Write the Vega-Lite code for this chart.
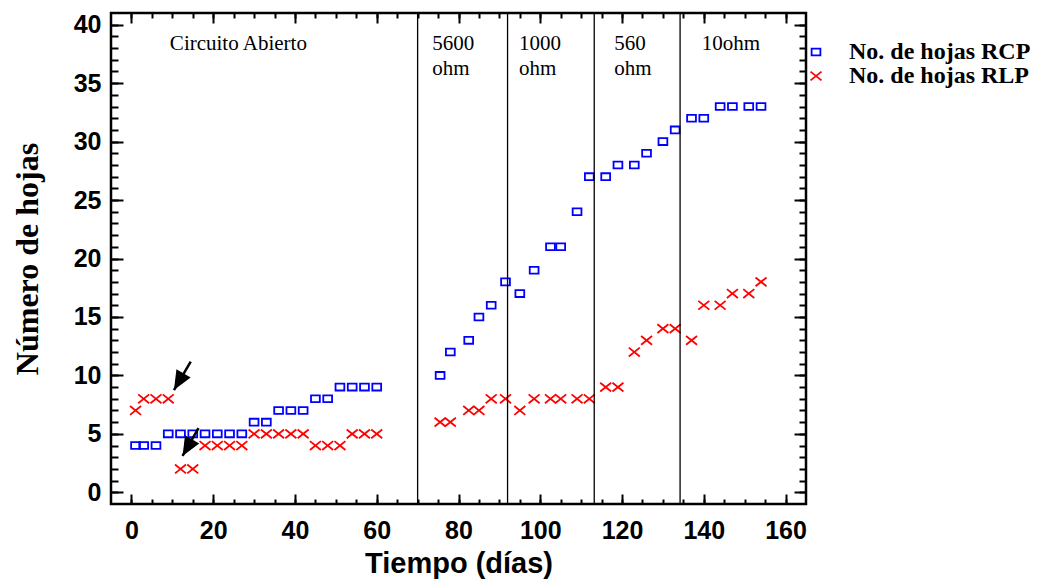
{
  "$schema": "https://vega.github.io/schema/vega-lite/v6.json",
  "autosize": {"type": "none"},
  "padding": {"left": 111, "top": 13, "right": 248, "bottom": 76},
  "width": 695,
  "height": 491,
  "background": "white",
  "config": {
    "view": {"stroke": "black", "strokeWidth": 2.5},
    "axis": {
      "domain": false,
      "grid": false,
      "tickColor": "black",
      "tickWidth": 2,
      "labelColor": "black",
      "titleColor": "black",
      "labelFont": "Liberation Sans",
      "labelFontWeight": "bold",
      "labelFontSize": 25
    }
  },
  "datasets": {
    "puntos": [
      {"dia": 1, "hojas": 4, "serie": "No. de hojas RCP"},
      {"dia": 3, "hojas": 4, "serie": "No. de hojas RCP"},
      {"dia": 6, "hojas": 4, "serie": "No. de hojas RCP"},
      {"dia": 9, "hojas": 5, "serie": "No. de hojas RCP"},
      {"dia": 12, "hojas": 5, "serie": "No. de hojas RCP"},
      {"dia": 15, "hojas": 5, "serie": "No. de hojas RCP"},
      {"dia": 18, "hojas": 5, "serie": "No. de hojas RCP"},
      {"dia": 21, "hojas": 5, "serie": "No. de hojas RCP"},
      {"dia": 24, "hojas": 5, "serie": "No. de hojas RCP"},
      {"dia": 27, "hojas": 5, "serie": "No. de hojas RCP"},
      {"dia": 30, "hojas": 6, "serie": "No. de hojas RCP"},
      {"dia": 33, "hojas": 6, "serie": "No. de hojas RCP"},
      {"dia": 36, "hojas": 7, "serie": "No. de hojas RCP"},
      {"dia": 39, "hojas": 7, "serie": "No. de hojas RCP"},
      {"dia": 42, "hojas": 7, "serie": "No. de hojas RCP"},
      {"dia": 45, "hojas": 8, "serie": "No. de hojas RCP"},
      {"dia": 48, "hojas": 8, "serie": "No. de hojas RCP"},
      {"dia": 51, "hojas": 9, "serie": "No. de hojas RCP"},
      {"dia": 54, "hojas": 9, "serie": "No. de hojas RCP"},
      {"dia": 57, "hojas": 9, "serie": "No. de hojas RCP"},
      {"dia": 60, "hojas": 9, "serie": "No. de hojas RCP"},
      {"dia": 75.5, "hojas": 10, "serie": "No. de hojas RCP"},
      {"dia": 78, "hojas": 12, "serie": "No. de hojas RCP"},
      {"dia": 82.5, "hojas": 13, "serie": "No. de hojas RCP"},
      {"dia": 85, "hojas": 15, "serie": "No. de hojas RCP"},
      {"dia": 88, "hojas": 16, "serie": "No. de hojas RCP"},
      {"dia": 91.5, "hojas": 18, "serie": "No. de hojas RCP"},
      {"dia": 95, "hojas": 17, "serie": "No. de hojas RCP"},
      {"dia": 98.5, "hojas": 19, "serie": "No. de hojas RCP"},
      {"dia": 102.5, "hojas": 21, "serie": "No. de hojas RCP"},
      {"dia": 105, "hojas": 21, "serie": "No. de hojas RCP"},
      {"dia": 109, "hojas": 24, "serie": "No. de hojas RCP"},
      {"dia": 112, "hojas": 27, "serie": "No. de hojas RCP"},
      {"dia": 116, "hojas": 27, "serie": "No. de hojas RCP"},
      {"dia": 119, "hojas": 28, "serie": "No. de hojas RCP"},
      {"dia": 123, "hojas": 28, "serie": "No. de hojas RCP"},
      {"dia": 126, "hojas": 29, "serie": "No. de hojas RCP"},
      {"dia": 130, "hojas": 30, "serie": "No. de hojas RCP"},
      {"dia": 133, "hojas": 31, "serie": "No. de hojas RCP"},
      {"dia": 137, "hojas": 32, "serie": "No. de hojas RCP"},
      {"dia": 140, "hojas": 32, "serie": "No. de hojas RCP"},
      {"dia": 144, "hojas": 33, "serie": "No. de hojas RCP"},
      {"dia": 147, "hojas": 33, "serie": "No. de hojas RCP"},
      {"dia": 151, "hojas": 33, "serie": "No. de hojas RCP"},
      {"dia": 154, "hojas": 33, "serie": "No. de hojas RCP"},
      {"dia": 1, "hojas": 7, "serie": "No. de hojas RLP"},
      {"dia": 3, "hojas": 8, "serie": "No. de hojas RLP"},
      {"dia": 6, "hojas": 8, "serie": "No. de hojas RLP"},
      {"dia": 9, "hojas": 8, "serie": "No. de hojas RLP"},
      {"dia": 12, "hojas": 2, "serie": "No. de hojas RLP"},
      {"dia": 15, "hojas": 2, "serie": "No. de hojas RLP"},
      {"dia": 18, "hojas": 4, "serie": "No. de hojas RLP"},
      {"dia": 21, "hojas": 4, "serie": "No. de hojas RLP"},
      {"dia": 24, "hojas": 4, "serie": "No. de hojas RLP"},
      {"dia": 27, "hojas": 4, "serie": "No. de hojas RLP"},
      {"dia": 30, "hojas": 5, "serie": "No. de hojas RLP"},
      {"dia": 33, "hojas": 5, "serie": "No. de hojas RLP"},
      {"dia": 36, "hojas": 5, "serie": "No. de hojas RLP"},
      {"dia": 39, "hojas": 5, "serie": "No. de hojas RLP"},
      {"dia": 42, "hojas": 5, "serie": "No. de hojas RLP"},
      {"dia": 45, "hojas": 4, "serie": "No. de hojas RLP"},
      {"dia": 48, "hojas": 4, "serie": "No. de hojas RLP"},
      {"dia": 51, "hojas": 4, "serie": "No. de hojas RLP"},
      {"dia": 54, "hojas": 5, "serie": "No. de hojas RLP"},
      {"dia": 57, "hojas": 5, "serie": "No. de hojas RLP"},
      {"dia": 60, "hojas": 5, "serie": "No. de hojas RLP"},
      {"dia": 75.5, "hojas": 6, "serie": "No. de hojas RLP"},
      {"dia": 78, "hojas": 6, "serie": "No. de hojas RLP"},
      {"dia": 82.5, "hojas": 7, "serie": "No. de hojas RLP"},
      {"dia": 85, "hojas": 7, "serie": "No. de hojas RLP"},
      {"dia": 88, "hojas": 8, "serie": "No. de hojas RLP"},
      {"dia": 91.5, "hojas": 8, "serie": "No. de hojas RLP"},
      {"dia": 95, "hojas": 7, "serie": "No. de hojas RLP"},
      {"dia": 98.5, "hojas": 8, "serie": "No. de hojas RLP"},
      {"dia": 102.5, "hojas": 8, "serie": "No. de hojas RLP"},
      {"dia": 105, "hojas": 8, "serie": "No. de hojas RLP"},
      {"dia": 109, "hojas": 8, "serie": "No. de hojas RLP"},
      {"dia": 112, "hojas": 8, "serie": "No. de hojas RLP"},
      {"dia": 116, "hojas": 9, "serie": "No. de hojas RLP"},
      {"dia": 119, "hojas": 9, "serie": "No. de hojas RLP"},
      {"dia": 123, "hojas": 12, "serie": "No. de hojas RLP"},
      {"dia": 126, "hojas": 13, "serie": "No. de hojas RLP"},
      {"dia": 130, "hojas": 14, "serie": "No. de hojas RLP"},
      {"dia": 133, "hojas": 14, "serie": "No. de hojas RLP"},
      {"dia": 137, "hojas": 13, "serie": "No. de hojas RLP"},
      {"dia": 140, "hojas": 16, "serie": "No. de hojas RLP"},
      {"dia": 144, "hojas": 16, "serie": "No. de hojas RLP"},
      {"dia": 147, "hojas": 17, "serie": "No. de hojas RLP"},
      {"dia": 151, "hojas": 17, "serie": "No. de hojas RLP"},
      {"dia": 154, "hojas": 18, "serie": "No. de hojas RLP"}
    ],
    "etiquetas": [
      {"x": 9.4, "y": 37.8, "texto": "Circuito Abierto"},
      {"x": 73.6, "y": 37.8, "texto": "5600\nohm"},
      {"x": 94.8, "y": 37.8, "texto": "1000\nohm"},
      {"x": 118.1, "y": 37.8, "texto": "560\nohm"},
      {"x": 139.5, "y": 37.8, "texto": "10ohm"}
    ],
    "flechas": [
      {"x0": 14.5, "y0": 11.17, "x1": 10.4, "y1": 8.75},
      {"x0": 16.4, "y0": 5.48, "x1": 12.5, "y1": 3.11}
    ],
    "divisiones": [
      {"dia": 70}, {"dia": 92}, {"dia": 113.2}, {"dia": 134.2}
    ]
  },
  "resolve": {"axis": {"x": "independent", "y": "independent"}},
  "layer": [
    {
      "data": {"name": "puntos"},
      "mark": {"type": "point", "filled": false, "size": 121, "strokeWidth": 1.8, "opacity": 1},
      "encoding": {
        "x": {
          "field": "dia", "type": "quantitative",
          "scale": {"domain": [-5, 165], "nice": false, "zero": false},
          "axis": {
            "orient": "bottom",
            "values": [0, 20, 40, 60, 80, 100, 120, 140, 160],
            "tickSize": -10,
            "labelPadding": 24,
            "title": "Tiempo (días)",
            "titleFont": "Liberation Sans",
            "titleFontWeight": "bold",
            "titleFontSize": 29,
            "titlePadding": 6
          }
        },
        "y": {
          "field": "hojas", "type": "quantitative",
          "scale": {"domain": [-1, 41], "nice": false, "zero": false},
          "axis": {
            "orient": "left",
            "values": [0, 5, 10, 15, 20, 25, 30, 35, 40],
            "tickSize": -12,
            "labelPadding": 22,
            "title": "Número de hojas",
            "titleFont": "Liberation Serif",
            "titleFontWeight": "bold",
            "titleFontSize": 32,
            "titlePadding": 29
          }
        },
        "color": {
          "field": "serie", "type": "nominal",
          "scale": {"domain": ["No. de hojas RCP", "No. de hojas RLP"], "range": ["#0000FF", "#FF0000"]},
          "legend": {
            "title": null, "orient": "none", "legendX": 693, "legendY": 27,
            "padding": 0, "labelOffset": 21, "rowPadding": 0, "labelLimit": 0,
            "labelFont": "Liberation Serif", "labelFontWeight": "bold", "labelFontSize": 24, "labelColor": "black",
            "symbolSize": 121, "symbolStrokeWidth": 1.8
          }
        },
        "shape": {
          "field": "serie", "type": "nominal",
          "scale": {"domain": ["No. de hojas RCP", "No. de hojas RLP"], "range": ["M-0.8,-0.62H0.8V0.62H-0.8Z", "M-1,-0.8L1,0.8M1,-0.8L-1,0.8"]},
          "legend": {
            "title": null, "orient": "none", "legendX": 693, "legendY": 27,
            "padding": 0, "labelOffset": 21, "rowPadding": 0, "labelLimit": 0,
            "labelFont": "Liberation Serif", "labelFontWeight": "bold", "labelFontSize": 24, "labelColor": "black",
            "symbolSize": 121, "symbolStrokeWidth": 1.8
          }
        }
      }
    },
    {
      "data": {"name": "etiquetas"},
      "mark": {"type": "text", "align": "left", "baseline": "alphabetic", "font": "Liberation Serif", "fontSize": 21, "lineBreak": "\n", "lineHeight": 25, "color": "black"},
      "encoding": {
        "x": {
          "field": "x", "type": "quantitative",
          "axis": {"orient": "bottom", "values": [0, 5, 10, 15, 20, 25, 30, 35, 40, 45, 50, 55, 60, 65, 70, 75, 80, 85, 90, 95, 100, 105, 110, 115, 120, 125, 130, 135, 140, 145, 150, 155, 160], "tickSize": -5, "labels": false, "title": null}
        },
        "y": {
          "field": "y", "type": "quantitative",
          "axis": {"orient": "left", "values": [0, 1, 2, 3, 4, 5, 6, 7, 8, 9, 10, 11, 12, 13, 14, 15, 16, 17, 18, 19, 20, 21, 22, 23, 24, 25, 26, 27, 28, 29, 30, 31, 32, 33, 34, 35, 36, 37, 38, 39, 40], "tickSize": -7, "labels": false, "title": null}
        },
        "text": {"field": "texto"}
      }
    },
    {
      "data": {"name": "flechas"},
      "mark": {"type": "rule", "color": "black", "strokeWidth": 2.5},
      "encoding": {
        "x": {
          "field": "x0", "type": "quantitative",
          "axis": {"orient": "top", "values": [0, 20, 40, 60, 80, 100, 120, 140, 160], "tickSize": -10, "labels": false, "title": null}
        },
        "y": {
          "field": "y0", "type": "quantitative",
          "axis": {"orient": "right", "values": [0, 5, 10, 15, 20, 25, 30, 35, 40], "tickSize": -12, "labels": false, "title": null}
        },
        "x2": {"field": "x1"},
        "y2": {"field": "y1"}
      }
    },
    {
      "data": {"name": "flechas"},
      "mark": {"type": "point", "shape": "M0,0L1.5,3.5L-1.5,3.5Z", "size": 120, "filled": true, "color": "black", "opacity": 1, "angle": 210},
      "encoding": {
        "x": {
          "field": "x1", "type": "quantitative",
          "axis": {"orient": "top", "values": [0, 5, 10, 15, 20, 25, 30, 35, 40, 45, 50, 55, 60, 65, 70, 75, 80, 85, 90, 95, 100, 105, 110, 115, 120, 125, 130, 135, 140, 145, 150, 155, 160], "tickSize": -5, "labels": false, "title": null}
        },
        "y": {
          "field": "y1", "type": "quantitative",
          "axis": {"orient": "right", "values": [0, 1, 2, 3, 4, 5, 6, 7, 8, 9, 10, 11, 12, 13, 14, 15, 16, 17, 18, 19, 20, 21, 22, 23, 24, 25, 26, 27, 28, 29, 30, 31, 32, 33, 34, 35, 36, 37, 38, 39, 40], "tickSize": -7, "labels": false, "title": null}
        }
      }
    },
    {
      "data": {"name": "divisiones"},
      "mark": {"type": "rule", "color": "black", "strokeWidth": 1.3},
      "encoding": {
        "x": {"field": "dia", "type": "quantitative", "axis": null}
      }
    }
  ]
}
